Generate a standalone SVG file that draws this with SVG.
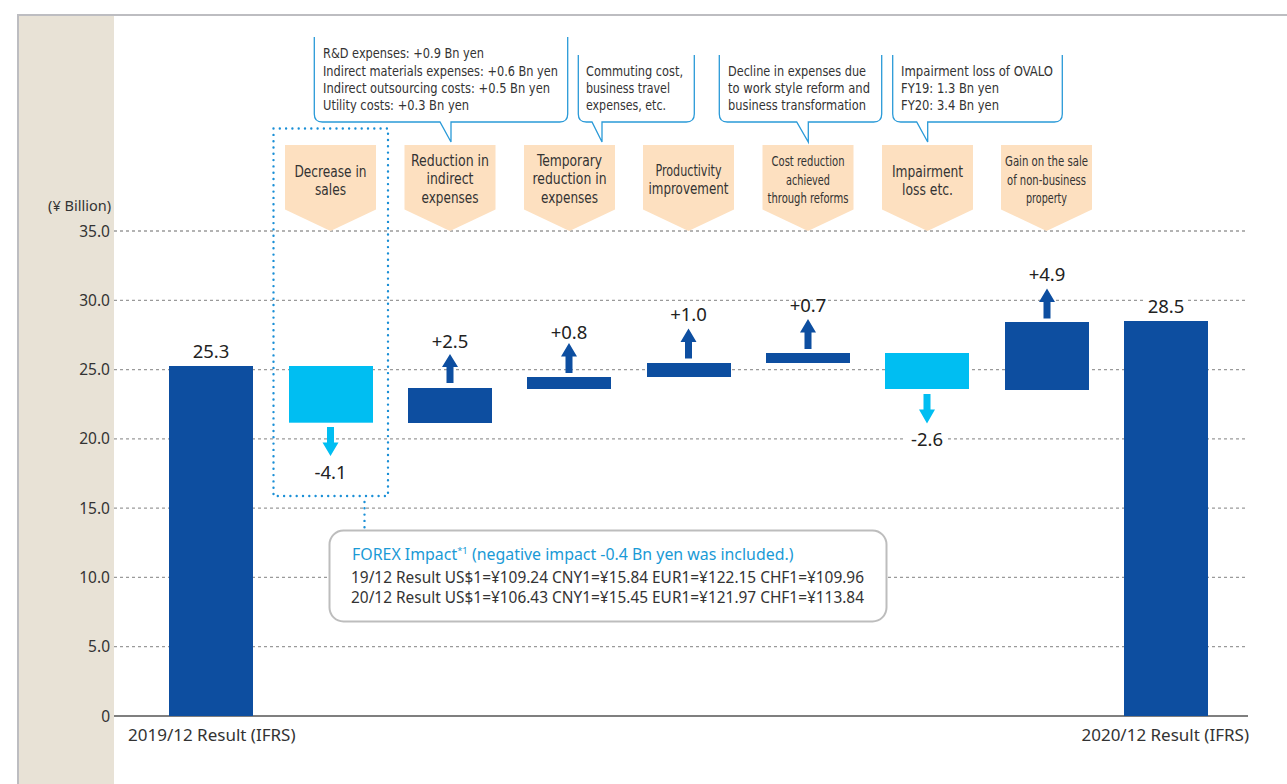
<svg xmlns="http://www.w3.org/2000/svg" width="1287" height="784" viewBox="0 0 1287 784">
<style>
.grid{stroke:#9a9a9a;stroke-width:1.3;stroke-dasharray:3 3;fill:none}
.tick{font-family:"Noto Sans","Liberation Sans",sans-serif;font-size:15.5px;fill:#333;text-anchor:end}
.cat{font-family:"Noto Sans","Liberation Sans",sans-serif;font-size:17px;fill:#333}
.val{font-family:"Noto Sans","Liberation Sans",sans-serif;font-size:18.5px;fill:#222;text-anchor:middle}
.dark{fill:#0d4ea0}
.light{fill:#00bef2}
.tag{fill:#fde0c0}
.tagt{font-family:"Liberation Sans Narrow","DejaVu Sans Condensed","Noto Sans",sans-serif;font-stretch:condensed;font-size:16px;fill:#333;text-anchor:middle}
.tags{font-size:14.5px}
.call{fill:#fff;stroke:#2a9ad8;stroke-width:1.3}
.callt{font-family:"Liberation Sans Narrow","DejaVu Sans Condensed","Noto Sans",sans-serif;font-stretch:condensed;font-size:14px;fill:#333}
.dots{fill:none;stroke:#1a8fd6;stroke-width:2.4;stroke-linecap:round;stroke-dasharray:0 6.3}
.fx{font-family:"Noto Sans","Liberation Sans",sans-serif;font-size:15.5px;fill:#333}
</style>

<!-- frame -->
<rect x="19" y="16" width="95" height="768" fill="#e8e2d6"/>
<line x1="17" y1="15" x2="1287" y2="15" stroke="#bdbdc1" stroke-width="2"/>
<line x1="18" y1="14" x2="18" y2="784" stroke="#bdbdc1" stroke-width="2"/>

<!-- grid -->
<g id="grid">
<line class="grid" x1="114" y1="231" x2="1248" y2="231"/>
<line class="grid" x1="114" y1="300.3" x2="1248" y2="300.3"/>
<line class="grid" x1="114" y1="369.6" x2="1248" y2="369.6"/>
<line class="grid" x1="114" y1="438.9" x2="1248" y2="438.9"/>
<line class="grid" x1="114" y1="508.1" x2="1248" y2="508.1"/>
<line class="grid" x1="114" y1="577.4" x2="1248" y2="577.4"/>
<line class="grid" x1="114" y1="646.7" x2="1248" y2="646.7"/>
<line x1="114" y1="716" x2="1248" y2="716" stroke="#555" stroke-width="1.5"/>
</g>

<g id="axis">
<text class="tick" x="111" y="211" style="font-size:14.5px">(¥ Billion)</text>
<text class="tick" x="110" y="236.5">35.0</text>
<text class="tick" x="110" y="305.8">30.0</text>
<text class="tick" x="110" y="375.1">25.0</text>
<text class="tick" x="110" y="444.4">20.0</text>
<text class="tick" x="110" y="513.6">15.0</text>
<text class="tick" x="110" y="582.9">10.0</text>
<text class="tick" x="110" y="652.2">5.0</text>
<text class="tick" x="110" y="721.5">0</text>
<text class="cat" x="128" y="741">2019/12 Result (IFRS)</text>
<text class="cat" x="1249" y="741" text-anchor="end">2020/12 Result (IFRS)</text>
</g>

<!-- bars -->
<g id="bar-2019"><rect class="dark" x="169" y="366" width="84" height="350"/><text class="val" x="211" y="357.5">25.3</text></g>
<g id="bar-sales"><rect class="light" x="289" y="366" width="84" height="56.7"/><text class="val" x="330.5" y="479">-4.1</text></g>
<g id="bar-indirect"><rect class="dark" x="408" y="388" width="84" height="35"/><text class="val" x="450" y="348">+2.5</text></g>
<g id="bar-temporary"><rect class="dark" x="527" y="377" width="84" height="12"/><text class="val" x="569" y="339">+0.8</text></g>
<g id="bar-productivity"><rect class="dark" x="647" y="363" width="84" height="14"/><text class="val" x="688.5" y="321">+1.0</text></g>
<g id="bar-cost"><rect class="dark" x="766" y="353" width="84" height="10"/><text class="val" x="808" y="311.5">+0.7</text></g>
<g id="bar-impairment"><rect class="light" x="885" y="353" width="84" height="36"/><rect x="906" y="432" width="42" height="16" fill="#fff"/><text class="val" x="927" y="446">-2.6</text></g>
<g id="bar-gain"><rect class="dark" x="1005" y="322" width="84" height="68"/><text class="val" x="1047" y="281">+4.9</text></g>
<g id="bar-2020"><rect class="dark" x="1124" y="321" width="84" height="395"/><rect x="1144" y="297" width="44" height="18" fill="#fff"/><text class="val" x="1166" y="312.5">28.5</text></g>

<!-- tags -->
<g id="tag-sales"><polygon class="tag" points="285,145 376,145 376,209.5 330.5,231 285,209.5"/>
<text class="tagt" x="330.5" y="176.5" textLength="72" lengthAdjust="spacingAndGlyphs">Decrease in</text><text class="tagt" x="330.5" y="195" textLength="31" lengthAdjust="spacingAndGlyphs">sales</text></g>
<g id="tag-indirect"><polygon class="tag" points="404.5,145 495.5,145 495.5,209.5 450,231 404.5,209.5"/>
<text class="tagt" x="450" y="165.5" textLength="78" lengthAdjust="spacingAndGlyphs">Reduction in</text><text class="tagt" x="450" y="184" textLength="47" lengthAdjust="spacingAndGlyphs">indirect</text><text class="tagt" x="450" y="202.5" textLength="57" lengthAdjust="spacingAndGlyphs">expenses</text></g>
<g id="tag-temporary"><polygon class="tag" points="524,145 615,145 615,209.5 569.5,231 524,209.5"/>
<text class="tagt" x="569.5" y="165.5" textLength="65" lengthAdjust="spacingAndGlyphs">Temporary</text><text class="tagt" x="569.5" y="184" textLength="74" lengthAdjust="spacingAndGlyphs">reduction in</text><text class="tagt" x="569.5" y="202.5" textLength="57" lengthAdjust="spacingAndGlyphs">expenses</text></g>
<g id="tag-productivity"><polygon class="tag" points="643,145 734,145 734,209.5 688.5,231 643,209.5"/>
<text class="tagt" x="688.5" y="176" textLength="66" lengthAdjust="spacingAndGlyphs">Productivity</text><text class="tagt" x="688.5" y="194" textLength="80" lengthAdjust="spacingAndGlyphs">improvement</text></g>
<g id="tag-cost"><polygon class="tag" points="762.5,145 853.5,145 853.5,209.5 808,231 762.5,209.5"/>
<text class="tagt tags" x="808" y="166" textLength="73" lengthAdjust="spacingAndGlyphs">Cost reduction</text><text class="tagt tags" x="808" y="184.5" textLength="44" lengthAdjust="spacingAndGlyphs">achieved</text><text class="tagt tags" x="808" y="202.5" textLength="81" lengthAdjust="spacingAndGlyphs">through reforms</text></g>
<g id="tag-impairment"><polygon class="tag" points="882,145 973,145 973,209.5 927.5,231 882,209.5"/>
<text class="tagt" x="927.5" y="176.5" textLength="71" lengthAdjust="spacingAndGlyphs">Impairment</text><text class="tagt" x="927.5" y="195" textLength="51" lengthAdjust="spacingAndGlyphs">loss etc.</text></g>
<g id="tag-gain"><polygon class="tag" points="1001,145 1092,145 1092,209.5 1046.5,231 1001,209.5"/>
<text class="tagt tags" x="1046.5" y="166" textLength="83" lengthAdjust="spacingAndGlyphs">Gain on the sale</text><text class="tagt tags" x="1046.5" y="184.5" textLength="79" lengthAdjust="spacingAndGlyphs">of non-business</text><text class="tagt tags" x="1046.5" y="202.5" textLength="41" lengthAdjust="spacingAndGlyphs">property</text></g>

<!-- callouts -->
<g id="callout-indirect">
<path class="call" d="M314.3,37 V114 Q314.3,122 322.3,122 H440 L451,142 V122 H559.7 Q567.7,122 567.7,114 V37"/>
<text class="callt" x="323" y="58" textLength="161" lengthAdjust="spacingAndGlyphs">R&amp;D expenses: +0.9 Bn yen</text>
<text class="callt" x="323" y="76" textLength="235" lengthAdjust="spacingAndGlyphs">Indirect materials expenses: +0.6 Bn yen</text>
<text class="callt" x="323" y="93" textLength="227" lengthAdjust="spacingAndGlyphs">Indirect outsourcing costs: +0.5 Bn yen</text>
<text class="callt" x="323" y="110" textLength="146" lengthAdjust="spacingAndGlyphs">Utility costs: +0.3 Bn yen</text>
</g>
<g id="callout-temporary">
<path class="call" d="M578.3,55 V114 Q578.3,122 586.3,122 H592 L602,142 V122 H686.3 Q694.3,122 694.3,114 V55"/>
<text class="callt" x="586" y="76" textLength="97" lengthAdjust="spacingAndGlyphs">Commuting cost,</text>
<text class="callt" x="586" y="93" textLength="84" lengthAdjust="spacingAndGlyphs">business travel</text>
<text class="callt" x="586" y="110" textLength="80" lengthAdjust="spacingAndGlyphs">expenses, etc.</text>
</g>
<g id="callout-cost">
<path class="call" d="M719.3,55 V114 Q719.3,122 727.3,122 H796.7 L808.3,142 V122 H873.7 Q881.7,122 881.7,114 V55"/>
<text class="callt" x="728" y="76" textLength="138" lengthAdjust="spacingAndGlyphs">Decline in expenses due</text>
<text class="callt" x="728" y="93" textLength="142" lengthAdjust="spacingAndGlyphs">to work style reform and</text>
<text class="callt" x="728" y="110" textLength="138" lengthAdjust="spacingAndGlyphs">business transformation</text>
</g>
<g id="callout-impairment">
<path class="call" d="M892.7,55 V114 Q892.7,122 900.7,122 H916.7 L927.7,142 V122 H1054.3 Q1062.3,122 1062.3,114 V55"/>
<text class="callt" x="901" y="76" textLength="152" lengthAdjust="spacingAndGlyphs">Impairment loss of OVALO</text>
<text class="callt" x="901" y="93" textLength="98" lengthAdjust="spacingAndGlyphs">FY19: 1.3 Bn yen</text>
<text class="callt" x="901" y="110" textLength="98" lengthAdjust="spacingAndGlyphs">FY20: 3.4 Bn yen</text>
</g>

<!-- FOREX box -->
<g id="forex">
<rect x="329.5" y="530.5" width="557" height="91" rx="14" ry="14" fill="#fff" stroke="#bdbdbd" stroke-width="2"/>
<text class="fx" x="352" y="560" style="fill:#1a9ad6;font-size:15.9px">FOREX Impact<tspan style="font-size:9.5px" dy="-6">*1</tspan><tspan dy="6"> (negative impact -0.4 Bn yen was included.)</tspan></text>
<text class="fx" x="351" y="582.5" textLength="513" lengthAdjust="spacingAndGlyphs">19/12 Result US$1=¥109.24 CNY1=¥15.84 EUR1=¥122.15 CHF1=¥109.96</text>
<text class="fx" x="351" y="603" textLength="513" lengthAdjust="spacingAndGlyphs">20/12 Result US$1=¥106.43 CNY1=¥15.45 EUR1=¥121.97 CHF1=¥113.84</text>
</g>

<!-- connectors: arrows and dotted links -->
<g id="connectors">
<path class="dark" d="M446.5,383 V367 H442 L450,354 L458,367 H453.5 V383 Z"/>
<path class="dark" d="M565.5,373 V356.5 H561 L569,343 L577,356.5 H572.5 V373 Z"/>
<path class="dark" d="M685,358.5 V342 H680.5 L688.5,328.5 L696.5,342 H692 V358.5 Z"/>
<path class="dark" d="M804.5,349 V332.5 H800 L808,319 L816,332.5 H811.5 V349 Z"/>
<path class="dark" d="M1043.5,318.5 V302 H1039 L1047,288.5 L1055,302 H1050.5 V318.5 Z"/>
<path class="light" d="M327,427 V442.5 H322.5 L330.5,456 L338.5,442.5 H334 V427 Z"/>
<path class="light" d="M923.5,394 V409.5 H919 L927,423.5 L935,409.5 H930.5 V394 Z"/>
<rect class="dots" x="273.5" y="128.5" width="114.5" height="367.5"/>
<line class="dots" x1="364.5" y1="502" x2="364.5" y2="528"/>
</g>
</svg>
